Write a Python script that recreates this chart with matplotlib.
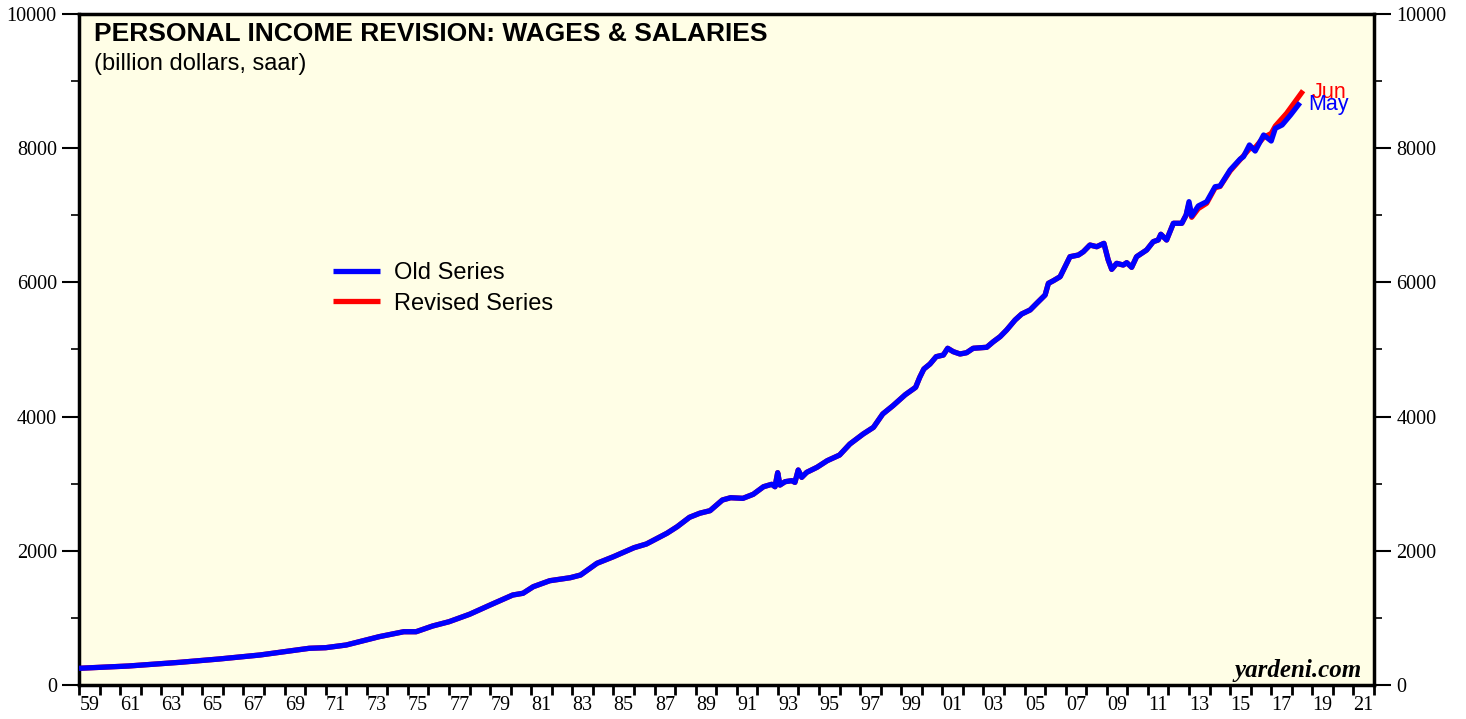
## Personal income revision: wages & salaries (old vs revised series)

import numpy as np
import matplotlib.pyplot as plt
from matplotlib.ticker import FixedLocator, NullFormatter, FixedFormatter

# old series (billion dollars, saar); x in decimal years
old_years = [1959.0, 1961.4, 1963.9, 1965.8, 1967.8, 1970.2, 1971.0, 1972.0, 1973.1, 1973.6,
             1974.8, 1975.4, 1976.2, 1977.0, 1978.0, 1979.0, 1980.1, 1980.6, 1981.1, 1981.9,
             1982.9, 1983.4, 1984.2, 1985.0, 1986.0, 1986.6, 1987.6, 1988.1, 1988.7, 1989.2,
             1989.7, 1990.3, 1990.7, 1991.3, 1991.8, 1992.3, 1992.7, 1992.86, 1992.99, 1993.1,
             1993.35, 1993.67, 1993.83, 1993.99, 1994.16, 1994.4, 1994.9, 1995.4, 1996.0, 1996.5,
             1997.15, 1997.65, 1998.1, 1998.6, 1999.2, 1999.7, 1999.9, 2000.1, 2000.4, 2000.7,
             2001.05, 2001.26, 2001.53, 2001.86, 2002.18, 2002.5, 2003.16, 2003.48, 2003.81, 2004.13,
             2004.54, 2004.86, 2005.27, 2005.59, 2006.0, 2006.16, 2006.4, 2006.73, 2006.97, 2007.21,
             2007.62, 2007.86, 2008.18, 2008.51, 2008.86, 2009.07, 2009.24, 2009.48, 2009.8, 2009.97,
             2010.21, 2010.45, 2010.94, 2011.26, 2011.5, 2011.63, 2011.91, 2012.24, 2012.65, 2012.86,
             2013.0, 2013.13, 2013.45, 2013.86, 2014.27, 2014.51, 2015.0, 2015.49, 2015.65, 2015.94,
             2016.22, 2016.63, 2017.0, 2017.2, 2017.53, 2017.94, 2018.4]
old_vals = [249, 283, 338, 387, 447, 547, 556, 596, 681, 720,
            794, 794, 879, 943, 1054, 1192, 1341, 1367, 1465, 1554,
            1599, 1639, 1814, 1912, 2046, 2101, 2261, 2359, 2499, 2560,
            2598, 2757, 2791, 2782, 2842, 2955, 2991, 2955, 3164, 2980,
            3030, 3045, 3020, 3204, 3095, 3169, 3244, 3343, 3427, 3591,
            3741, 3840, 4039, 4163, 4327, 4436, 4585, 4709, 4784, 4893,
            4918, 5018, 4968, 4933, 4952, 5018, 5033, 5116, 5191, 5291,
            5440, 5529, 5589, 5688, 5812, 5986, 6025, 6085, 6234, 6383,
            6408, 6457, 6557, 6532, 6582, 6334, 6195, 6284, 6259, 6294,
            6225, 6383, 6483, 6607, 6632, 6717, 6632, 6881, 6881, 7004,
            7203, 6989, 7139, 7203, 7426, 7437, 7675, 7839, 7873, 8048,
            7958, 8197, 8107, 8296, 8346, 8495, 8678]

# revised series: same as old up to late 2012, then its own tail
rev_cut = 2012.86
rev_tail_years = [2013.0, 2013.13, 2013.45, 2013.86, 2014.27, 2014.51, 2015.0, 2015.49,
                  2015.94, 2016.22, 2016.63, 2017.0, 2017.2, 2017.75, 2018.55]
rev_tail_vals = [7170, 6970, 7100, 7180, 7410, 7430, 7660, 7830,
                 7990, 8010, 8160, 8220, 8330, 8520, 8857]

old_years = np.array(old_years)
old_vals = np.array(old_vals)
keep = old_years <= rev_cut
rev_years = np.concatenate([old_years[keep], rev_tail_years])
rev_vals = np.concatenate([old_vals[keep], rev_tail_vals])

fig = plt.figure(figsize=(14.66, 7.19), dpi=100)
ax = fig.add_axes([79/1466, 1 - 685/719, 1295/1466, 671/719])
ax.set_facecolor('#fffee6')

ax.plot(rev_years, rev_vals, color='#ff0000', lw=3.8, solid_capstyle='butt', label='Revised Series', zorder=2)
ax.plot(old_years, old_vals, color='#0000ff', lw=3.8, solid_capstyle='butt', label='Old Series', zorder=3)

ax.set_xlim(1959, 2022)
ax.set_ylim(0, 10000)

# year ticks on boundaries, labels centred on odd years
ax.xaxis.set_major_locator(FixedLocator(np.arange(1959, 2023)))
ax.xaxis.set_major_formatter(NullFormatter())
lab_years = np.arange(1959, 2022, 2)
ax.xaxis.set_minor_locator(FixedLocator(lab_years + 0.5))
ax.xaxis.set_minor_formatter(FixedFormatter(['%02d' % (y % 100) for y in lab_years]))
ax.tick_params(axis='x', which='major', direction='out', length=7, width=2, top=False)
ax.tick_params(axis='x', which='minor', length=0, pad=8, labelsize=14.5, top=False)

ax.yaxis.set_major_locator(FixedLocator(np.arange(0, 10001, 2000)))
ax.yaxis.set_minor_locator(FixedLocator(np.arange(1000, 10000, 2000)))
ax.tick_params(axis='y', which='major', direction='out', length=12, width=1.5,
               left=True, right=True, labelleft=True, labelright=True, labelsize=14.5, pad=4)
ax.tick_params(axis='y', which='minor', direction='out', length=6, width=1.2, left=True, right=True)

for lab in ax.get_xticklabels(minor=True) + ax.get_yticklabels() + ax.get_yticklabels(which='both'):
    lab.set_fontfamily('Liberation Serif')

for s in ax.spines.values():
    s.set_linewidth(2.5)

ax.text(0.0116, 0.988, 'PERSONAL INCOME REVISION: WAGES & SALARIES', transform=ax.transAxes,
        ha='left', va='top', fontsize=19, fontweight='bold', family='Liberation Sans')
ax.text(0.0116, 0.942, '(billion dollars, saar)', transform=ax.transAxes,
        ha='left', va='top', fontsize=17, family='Liberation Sans')
ax.text(0.9907, 0.012, 'yardeni.com', transform=ax.transAxes, ha='right', va='baseline',
        fontsize=18, fontweight='bold', fontstyle='italic', family='Liberation Serif')

ax.text(rev_years[-1] + 0.4, rev_vals[-1] - 30, 'Jun', color='#ff0000', ha='left', va='center',
        fontsize=15.5, family='Liberation Sans')
ax.text(old_years[-1] + 0.4, old_vals[-1] - 20, 'May', color='#0000ff', ha='left', va='center',
        fontsize=15.5, family='Liberation Sans')

handles, labels = ax.get_legend_handles_labels()
leg = ax.legend(handles[::-1], labels[::-1], loc='upper left', bbox_to_anchor=(0.196, 0.630),
                frameon=False, borderpad=0, borderaxespad=0, handlelength=2.0, handletextpad=0.6,
                labelspacing=0.35, prop={'family': 'Liberation Sans', 'size': 17})

fig.savefig('out.png', dpi=100)
